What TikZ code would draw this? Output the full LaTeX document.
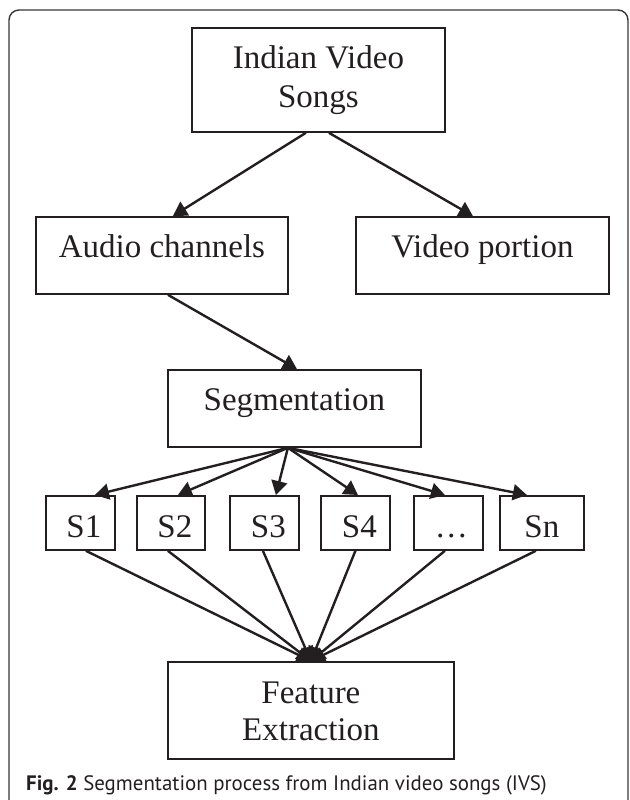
\documentclass[tikz,border=0pt]{standalone}
\usepackage{fontspec}
\setmainfont{Liberation Serif}
\newfontfamily\capfont{PT Sans}
\usetikzlibrary{arrows.meta}
\definecolor{ink}{HTML}{231F20}
\begin{document}
\begin{tikzpicture}[x=1pt,y=-1pt,
  box/.style={draw=ink, line width=1.8pt, inner sep=0pt, anchor=north west, text=ink,
              font=\fontsize{33}{39}\selectfont},
  conn/.style={draw=ink, line width=2.4pt, -{Triangle[length=14pt,width=16pt]}},
  frame/.style={draw=ink!90, line width=1.4pt, rounded corners=10pt}]
\useasboundingbox (0,0) rectangle (629,800);
\draw[frame] (9,840) -- (9,10) -- (628,10) -- (628,840);

\node[box, minimum width=253pt, minimum height=104pt, text height=41pt, text depth=63pt] (ivs) at (191,27)
  {\parbox[t]{253pt}{\centering Indian Video\\Songs}};
\node[box, minimum width=252pt, minimum height=77pt, text height=41pt, text depth=36pt] (audio) at (35,216) {Audio channels};
\node[box, minimum width=253pt, minimum height=77pt, text height=41pt, text depth=36pt] (video) at (355,216) {Video portion};
\node[box, minimum width=253pt, minimum height=77pt, text height=41pt, text depth=36pt] (seg) at (167,369) {Segmentation};

\node[box, minimum width=69pt, minimum height=54pt, text height=42pt, text depth=12pt] (s1) at (45,495) {\hspace*{7pt}S1};
\node[box, minimum width=68pt, minimum height=54pt, text height=42pt, text depth=12pt] (s2) at (136,495) {\hspace*{8pt}S2};
\node[box, minimum width=69pt, minimum height=54pt, text height=42pt, text depth=12pt] (s3) at (229,495) {\hspace*{8pt}S3};
\node[box, minimum width=69pt, minimum height=54pt, text height=42pt, text depth=12pt] (s4) at (320,495) {\hspace*{8pt}S4};
\node[box, minimum width=69pt, minimum height=54pt, text height=42pt, text depth=12pt] (sd) at (413,495) {\hspace*{6pt}\ldots};
\node[box, minimum width=84pt, minimum height=54pt, text height=42pt, text depth=12pt] (sn) at (499,495) {Sn};

\node[box, font=\fontsize{33}{37}\selectfont, minimum width=286pt, minimum height=97pt, text height=42pt, text depth=55pt] (fe) at (167,661)
  {\parbox[t]{286pt}{\centering Feature\\Extraction}};

\node[anchor=base west, inner sep=0pt, text=ink, font=\capfont\fontsize{20.9}{24}\selectfont] (cap) at (26,790)
  {\textbf{Fig. 2} Segmentation process from Indian video songs (IVS)};

\draw[conn] ([xshift=-12.5pt]ivs.south) -- ([xshift=11pt]audio.north);
\draw[conn] ([xshift=10.5pt]ivs.south) -- ([xshift=-9.5pt]video.north);
\draw[conn] ([xshift=6pt]audio.south) -- ([xshift=2.5pt]seg.north);

\draw[conn] ([xshift=-6.5pt]seg.south) -- ([xshift=14.5pt]s1.north);
\draw[conn] ([xshift=-6.5pt]seg.south) -- ([xshift=7pt]s2.north);
\draw[conn] ([xshift=-6.5pt]seg.south) -- ([xshift=11.5pt]s3.north);
\draw[conn] ([xshift=-6.5pt]seg.south) -- ([xshift=2.5pt]s4.north);
\draw[conn] ([xshift=-6.5pt]seg.south) -- ([xshift=-3.5pt]sd.north);
\draw[conn] ([xshift=-6.5pt]seg.south) -- ([xshift=-15pt]sn.north);

\draw[conn] ([xshift=5.5pt]s1.south) -- (fe.north);
\draw[conn] ([xshift=-3pt]s2.south) -- (fe.north);
\draw[conn] ([xshift=-1.5pt]s3.south) -- (fe.north);
\draw[conn] (s4.south) -- (fe.north);
\draw[conn] ([xshift=-3.5pt]sd.south) -- (fe.north);
\draw[conn] ([xshift=-6pt]sn.south) -- (fe.north);
\end{tikzpicture}
\end{document}
